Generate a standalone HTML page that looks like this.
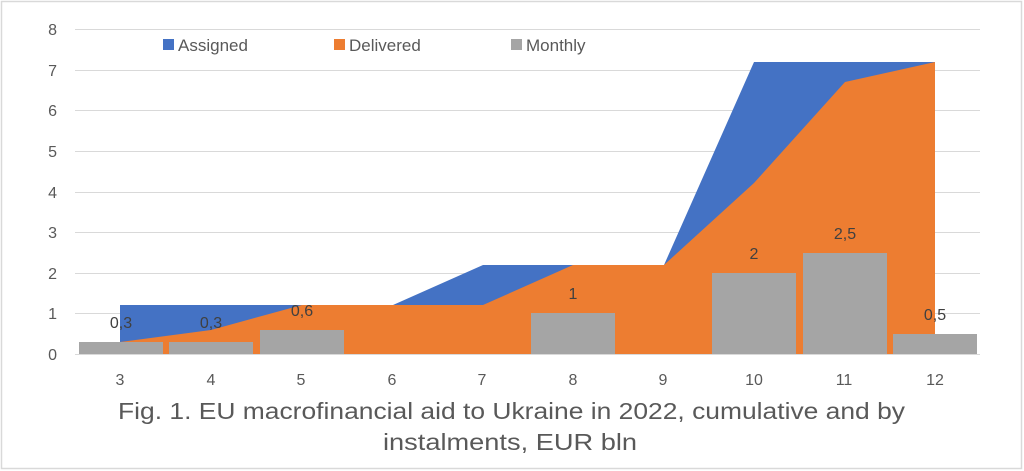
<!DOCTYPE html>
<html><head><meta charset="utf-8"><style>
body{margin:0;background:#fff;}
svg{display:block;font-family:"Liberation Sans",sans-serif;}
</style></head><body>
<svg width="1024" height="471" viewBox="0 0 1024 471">
<rect x="1.5" y="1.5" width="1020" height="467" fill="#fff" stroke="#d9d9d9" stroke-width="1.5"/>
<g stroke="#d9d9d9" stroke-width="1">
<line x1="75" x2="980" y1="29.5" y2="29.5"/>
<line x1="75" x2="980" y1="70.5" y2="70.5"/>
<line x1="75" x2="980" y1="110.5" y2="110.5"/>
<line x1="75" x2="980" y1="151.5" y2="151.5"/>
<line x1="75" x2="980" y1="192.5" y2="192.5"/>
<line x1="75" x2="980" y1="232.5" y2="232.5"/>
<line x1="75" x2="980" y1="273.5" y2="273.5"/>
<line x1="75" x2="980" y1="313.5" y2="313.5"/>
</g>
<g fill="#595959" font-size="16" text-anchor="end">
<text x="57" y="35">8</text><text x="57" y="76">7</text><text x="57" y="116">6</text>
<text x="57" y="157">5</text><text x="57" y="198">4</text><text x="57" y="238">3</text>
<text x="57" y="279">2</text><text x="57" y="319">1</text><text x="57" y="360">0</text>
</g>
<polygon fill="#4472c4" points="120,354 120,305 393,305 483,265 664,265 754,62 935,62 935,354"/>
<polygon fill="#ed7d31" points="120,354 120,342 211,330 302,305 393,305 483,305 573,265 664,265 754,183 845,82 935,62 935,354"/>
<g fill="#a5a5a5">
<rect x="79" y="342" width="84" height="12"/>
<rect x="169" y="342" width="84" height="12"/>
<rect x="260" y="330" width="84" height="24"/>
<rect x="531" y="313" width="84" height="41"/>
<rect x="712" y="273" width="84" height="81"/>
<rect x="803" y="253" width="84" height="101"/>
<rect x="893" y="334" width="84" height="20"/>
</g>
<line x1="75" x2="980" y1="354.5" y2="354.5" stroke="#d9d9d9"/>
<g fill="#404040" font-size="16" text-anchor="middle">
<text x="121" y="328">0,3</text><text x="211" y="328">0,3</text><text x="302" y="316">0,6</text>
<text x="573" y="299">1</text><text x="754" y="259">2</text><text x="845" y="239">2,5</text>
<text x="935" y="320">0,5</text>
</g>
<g fill="#595959" font-size="16" text-anchor="middle">
<text x="120" y="385">3</text><text x="211" y="385">4</text><text x="301" y="385">5</text>
<text x="392" y="385">6</text><text x="482" y="385">7</text><text x="573" y="385">8</text>
<text x="663" y="385">9</text><text x="754" y="385">10</text><text x="844" y="385">11</text>
<text x="935" y="385">12</text>
</g>
<g font-size="17" fill="#595959">
<rect x="163" y="39" width="11" height="11" fill="#4472c4"/><text x="178" y="51">Assigned</text>
<rect x="334" y="39" width="11" height="11" fill="#ed7d31"/><text x="349" y="51">Delivered</text>
<rect x="511" y="39" width="11" height="11" fill="#a5a5a5"/><text x="526" y="51">Monthly</text>
</g>
<g font-size="23" fill="#595959">
<text x="118" y="419" textLength="787" lengthAdjust="spacingAndGlyphs">Fig. 1. EU macrofinancial aid to Ukraine in 2022, cumulative and by</text>
<text x="383" y="450" textLength="254" lengthAdjust="spacingAndGlyphs">instalments, EUR bln</text>
</g>
</svg>
</body></html>
